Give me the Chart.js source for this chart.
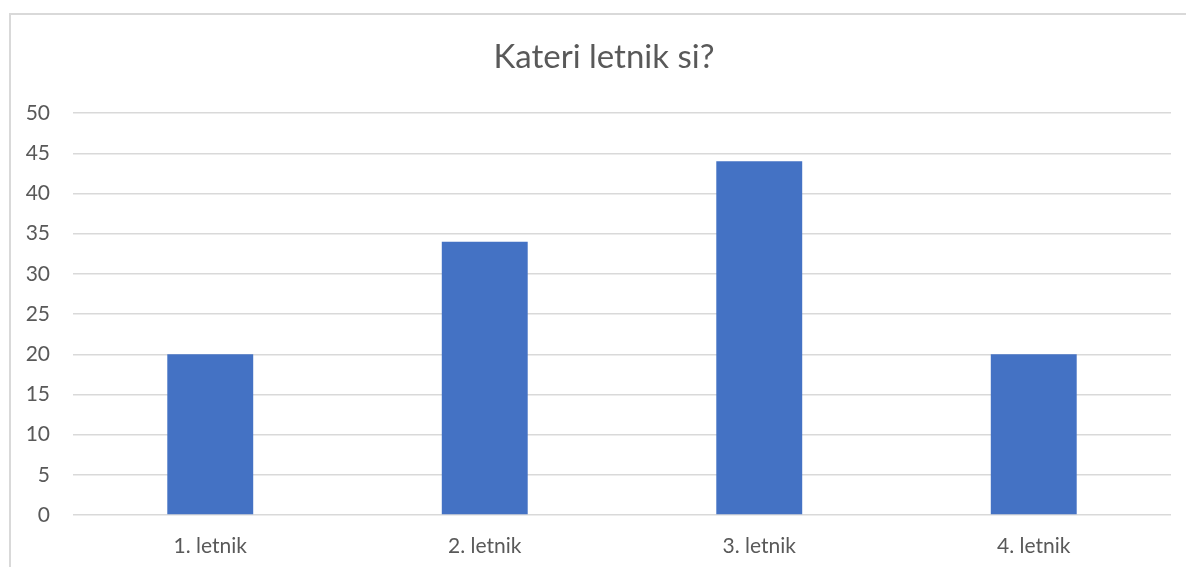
<!DOCTYPE html>
<html>
<head>
<meta charset="utf-8">
<script src="https://cdn.jsdelivr.net/npm/chart.js@4/dist/chart.umd.min.js"></script>
<style>
  html, body { margin: 0; padding: 0; background: #fff; }
  body { width: 1186px; height: 567px; position: relative; overflow: hidden; }
  .frame { position: absolute; left: 9px; top: 13px; width: 1190px; height: 600px; border: 2px solid #d9d9d9; box-sizing: border-box; }
  .wrap { position: absolute; left: 0; top: 0; width: 1186px; height: 567px; }
</style>
</head>
<body>
<div class="frame"></div>
<div class="wrap"><canvas id="chart"></canvas></div>
<script>
// ----------------------------
// DATA
// ----------------------------
const chartTitle = "Kateri letnik si?";
const categories = ["1. letnik", "2. letnik", "3. letnik", "4. letnik"];
const counts = [20, 34, 44, 20];
const yTicks = { min: 0, max: 50, step: 5 };

const textColor = "#595959";
const gridColor = "#d9d9d9";
const barColor = "#4472C4";
const fontFamily = "Lato, 'Open Sans', sans-serif";

// title sits centred on the outer frame, not on the canvas, so draw it ourselves
const frameTitle = {
  id: "frameTitle",
  afterDraw(chart) {
    const c = chart.ctx;
    c.save();
    c.font = `normal 33px ${fontFamily}`;
    c.fillStyle = textColor;
    c.textAlign = "center";
    c.textBaseline = "middle";
    c.fillText(chartTitle, 604, 57);
    c.restore();
  }
};

// ----------------------------
// CHART
// ----------------------------
const ctx = document.getElementById("chart").getContext("2d");

new Chart(ctx, {
  type: "bar",
  data: {
    labels: categories,
    datasets: [{
      label: chartTitle,
      data: counts,
      backgroundColor: barColor,
      borderWidth: 0,
      categoryPercentage: 1,
      barPercentage: 0.313
    }]
  },
  options: {
    responsive: true,
    maintainAspectRatio: false,
    animation: false,
    layout: { padding: { left: 0, right: 15, top: 113, bottom: 0 } },
    plugins: {
      legend: { display: false },
      tooltip: { enabled: false },
      title: { display: false }
    },
    scales: {
      x: {
        grid: { display: false, drawTicks: false },
        border: { display: false },
        ticks: {
          color: textColor,
          font: { family: fontFamily, size: 21 },
          padding: 19
        },
        afterFit: scale => { scale.height = 52; }
      },
      y: {
        min: yTicks.min,
        max: yTicks.max,
        grid: { color: gridColor, lineWidth: 1.4, drawTicks: false },
        border: { display: false },
        ticks: {
          stepSize: yTicks.step,
          color: textColor,
          font: { family: fontFamily, size: 21 },
          padding: 23
        },
        afterFit: scale => { scale.width = 73; }
      }
    }
  },
  plugins: [frameTitle]
});
</script>
</body>
</html>
